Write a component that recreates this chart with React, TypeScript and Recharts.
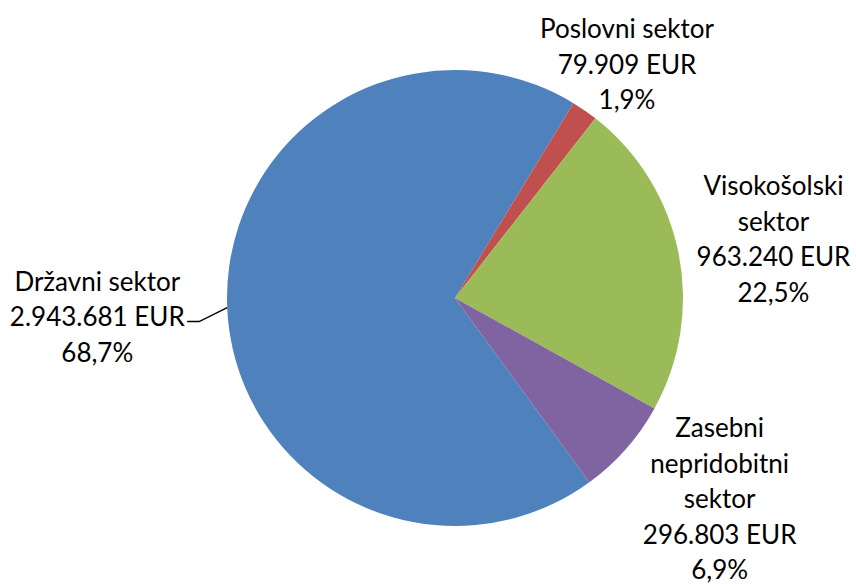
import { Cell, Pie, PieChart } from "recharts";

const SECTORS = [
  "Državni sektor",
  "Poslovni sektor",
  "Visokošolski sektor",
  "Zasebni nepridobitni sektor",
];
const AMOUNTS = [2943681, 79909, 963240, 296803];
const COLORS = ["#4F81BD", "#C0504D", "#9BBB59", "#8064A2"];

// label placement per slice: radial push, nudge, wrap width, optional leader
const LABEL_LAYOUT = [
  { extra: 130, dx: 0, dy: 3, wrap: 16, leader: { ex: -28, ey: 14, tail: -12 } },
  { extra: 64, dx: 6, dy: 6, wrap: 16 },
  { extra: 96, dx: 1, dy: 5, wrap: 12 },
  { extra: 105, dx: 15, dy: -20, wrap: 12 },
];

const data = SECTORS.map((name, i) => ({ name, value: AMOUNTS[i] }));
const TOTAL = AMOUNTS.reduce((a, b) => a + b, 0);

const RADIAN = Math.PI / 180;
const FONT = "Lato, 'Open Sans', sans-serif";
const LINE_H = 35.5;

const fmtEur = (v: number) => String(v).replace(/\B(?=(\d{3})+(?!\d))/g, ".") + " EUR";
const fmtPct = (v: number) => ((v / TOTAL) * 100).toFixed(1).replace(".", ",") + "%";

const wrapWords = (text: string, max: number) => {
  const out: string[] = [];
  let cur = "";
  for (const w of text.split(" ")) {
    if (cur && (cur + " " + w).length > max) {
      out.push(cur);
      cur = w;
    } else {
      cur = cur ? cur + " " + w : w;
    }
  }
  if (cur) out.push(cur);
  return out;
};

const polar = (cx: number, cy: number, r: number, angle: number) => ({
  x: cx + r * Math.cos(-angle * RADIAN),
  y: cy + r * Math.sin(-angle * RADIAN),
});

const renderLabel = (props: any) => {
  const { cx, cy, midAngle, outerRadius, index } = props;
  const lay = LABEL_LAYOUT[index];
  const p = polar(cx, cy, outerRadius + lay.extra, midAngle);
  const x = p.x + lay.dx;
  const y = p.y + lay.dy;
  const lines = [
    ...wrapWords(SECTORS[index], lay.wrap),
    fmtEur(AMOUNTS[index]),
    fmtPct(AMOUNTS[index]),
  ];
  const top = y - ((lines.length - 1) * LINE_H) / 2;
  let leader = null;
  if (lay.leader) {
    const e = polar(cx, cy, outerRadius, midAngle);
    const bx = e.x + lay.leader.ex;
    const by = e.y + lay.leader.ey;
    leader = (
      <polyline
        points={`${e.x},${e.y} ${bx},${by} ${bx + lay.leader.tail},${by}`}
        fill="none"
        stroke="#000"
        strokeWidth={1.5}
      />
    );
  }
  return (
    <g key={`lbl-${index}`}>
      {leader}
      <text
        x={x}
        y={top}
        textAnchor="middle"
        dominantBaseline="central"
        fill="#000"
        style={{ fontFamily: FONT, fontSize: 26 }}
      >
        {lines.map((ln, i) => (
          <tspan key={i} x={x} y={top + i * LINE_H}>
            {ln}
          </tspan>
        ))}
      </text>
    </g>
  );
};

export default function App() {
  return (
    <div style={{ position: "absolute", left: 0, top: 0, width: 856, height: 585, background: "#fff" }}>
      <PieChart width={856} height={585} margin={{ top: 0, right: 0, bottom: 0, left: 0 }}>
        <Pie
          data={data}
          dataKey="value"
          nameKey="name"
          cx={455}
          cy={298}
          outerRadius={228}
          startAngle={-53.9}
          endAngle={-413.9}
          stroke="none"
          label={renderLabel}
          labelLine={false}
          isAnimationActive={false}
        >
          {data.map((_, i) => (
            <Cell key={i} fill={COLORS[i]} />
          ))}
        </Pie>
      </PieChart>
    </div>
  );
}
